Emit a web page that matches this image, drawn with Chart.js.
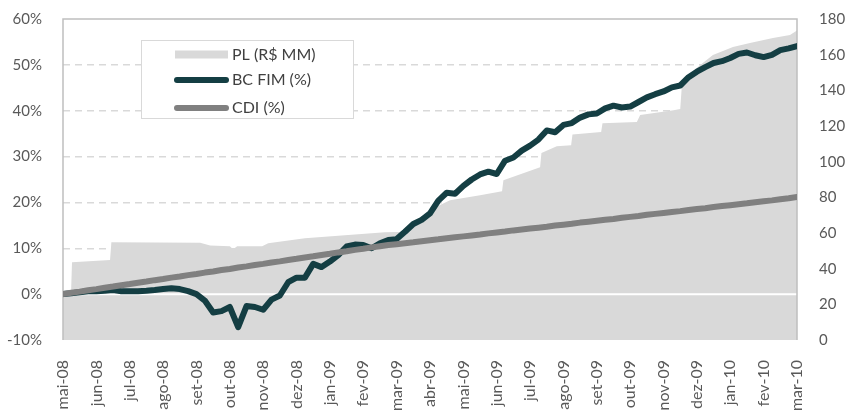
<!DOCTYPE html>
<html>
<head>
<meta charset="utf-8">
<script src="https://cdn.jsdelivr.net/npm/chart.js@4.4.1/dist/chart.umd.min.js"></script>
<style>
    html, body { margin: 0; padding: 0; background: #fff; }
    #wrap { width: 845px; height: 415px; }
</style>
</head>
<body>
<div id="wrap"><canvas id="chart"></canvas></div>
<script>
// Month labels on the x axis (one tick per month)
const monthLabels = ['mai-08', 'jun-08', 'jul-08', 'ago-08', 'set-08', 'out-08', 'nov-08', 'dez-08',
    'jan-09', 'fev-09', 'mar-09', 'abr-09', 'mai-09', 'jun-09', 'jul-09', 'ago-09', 'set-09',
    'out-09', 'nov-09', 'dez-09', 'jan-10', 'fev-10', 'mar-10'];

// BC FIM (%) - read every quarter month starting at mai-08
const bcFim = [0, 0.2, 0.4, 0.65, 0.65, 0.75, 0.9, 0.65, 0.65, 0.65,
    0.75, 0.9, 1.1, 1.3, 1.1, 0.65, 0, -1.4, -4.0, -3.7,
    -2.8, -7.2, -2.6, -2.8, -3.4, -1.2, -0.3, 2.6, 3.6, 3.6,
    6.6, 5.9, 7.1, 8.5, 10.4, 10.8, 10.7, 10.0, 11.1, 11.8,
    12.0, 13.6, 15.3, 16.2, 17.6, 20.4, 22.1, 21.9, 23.6, 25.0,
    26.1, 26.7, 26.2, 29.1, 29.8, 31.3, 32.4, 33.7, 35.7, 35.3,
    36.9, 37.3, 38.5, 39.2, 39.4, 40.5, 41.1, 40.7, 40.9, 41.9,
    42.9, 43.6, 44.2, 45.1, 45.5, 47.3, 48.5, 49.5, 50.4, 50.8,
    51.5, 52.4, 52.7, 52.1, 51.7, 52.2, 53.2, 53.6, 54.1];

// CDI (%) - same quarter month sampling
const cdi = [0.0, 0.3, 0.55, 0.85, 1.1, 1.4, 1.65, 1.95, 2.2, 2.5,
    2.75, 3.05, 3.3, 3.6, 3.85, 4.15, 4.4, 4.7, 4.95, 5.25,
    5.5, 5.8, 6.05, 6.35, 6.6, 6.9, 7.15, 7.45, 7.7, 8.0,
    8.25, 8.55, 8.8, 9.1, 9.35, 9.65, 9.9, 10.2, 10.45, 10.7,
    10.9, 11.1, 11.3, 11.55, 11.75, 11.95, 12.2, 12.4, 12.6, 12.8,
    13.0, 13.25, 13.45, 13.65, 13.9, 14.1, 14.3, 14.5, 14.7, 14.95,
    15.15, 15.35, 15.6, 15.8, 16.0, 16.2, 16.4, 16.65, 16.85, 17.05,
    17.3, 17.5, 17.7, 17.9, 18.1, 18.35, 18.55, 18.75, 19.0, 19.2,
    19.4, 19.6, 19.8, 20.05, 20.25, 20.45, 20.7, 20.9, 21.2];

// PL (R$ MM) - break points (months since mai-08, value)
const plMonths = [0, 0.24, 0.27, 1.41, 1.45, 4.11, 4.41, 5.0, 5.1, 5.22,
    5.97, 6.15, 7.25, 8.45, 9.65, 10.1, 11.1, 11.6, 12.5, 13.16,
    13.2, 14.3, 14.34, 14.8, 15.23, 15.27, 16.13, 16.17, 17.2, 17.3,
    18.3, 18.5, 18.56, 19.1, 19.48, 20.08, 20.59, 21.28, 21.79, 22.0];
const plValues = [25.5, 25.5, 43.6, 44.8, 54.8, 54.6, 53.0, 52.6, 50.9, 52.6,
    52.6, 54.3, 57.1, 58.8, 60.4, 60.6, 73.9, 78.4, 81.2, 83.4,
    89.6, 96.9, 104.8, 108.7, 109.2, 115.3, 116.6, 121.6, 122.3, 126.1,
    128.9, 129.5, 145.5, 154.2, 159.8, 164.3, 166.5, 169.3, 171.0, 173.5];

const leftTicks = [-10, 0, 10, 20, 30, 40, 50, 60];
const rightTicks = [0, 20, 40, 60, 80, 100, 120, 140, 160, 180];

const FONT = 'Lato, "Open Sans", sans-serif';
const TICK_COLOR = '#595959';

// White zero line and plot frame, drawn after the PL area and before the lines
const framePlugin = {
    id: 'frame',
    beforeDatasetDraw(chart, args) {
        if (chart.data.datasets[args.index].label !== 'BC FIM (%)') return;
        const { ctx, chartArea } = chart;
        const y0 = chart.scales.y.getPixelForValue(0);
        ctx.save();
        ctx.strokeStyle = '#ffffff';
        ctx.lineWidth = 2;
        ctx.beginPath();
        ctx.moveTo(chartArea.left, y0);
        ctx.lineTo(chartArea.right, y0);
        ctx.stroke();

        ctx.strokeStyle = '#bfbfbf';
        ctx.lineWidth = 1.5;
        ctx.beginPath();
        ctx.moveTo(chartArea.left, chartArea.bottom);
        ctx.lineTo(chartArea.left, chartArea.top);
        ctx.lineTo(chartArea.right, chartArea.top);
        ctx.lineTo(chartArea.right, chartArea.bottom);
        ctx.stroke();
        ctx.restore();
    }
};

// Legend box inside the plot
const boxLegend = {
    id: 'boxLegend',
    afterDraw(chart) {
        const { ctx } = chart;
        const box = { x: 141.5, y: 40.5, w: 212, h: 78 };
        ctx.save();
        ctx.fillStyle = '#ffffff';
        ctx.strokeStyle = '#d9d9d9';
        ctx.lineWidth = 1;
        ctx.fillRect(box.x, box.y, box.w, box.h);
        ctx.strokeRect(box.x, box.y, box.w, box.h);

        const rows = [54.5, 80, 108];
        ctx.font = '16px ' + FONT;
        ctx.textBaseline = 'middle';
        chart.data.datasets.forEach((ds, i) => {
            const yy = rows[i];
            if (ds.fill) {
                ctx.fillStyle = ds.backgroundColor;
                ctx.fillRect(175, yy - 4, 53, 8);
            } else {
                ctx.strokeStyle = ds.borderColor;
                ctx.lineWidth = ds.borderWidth;
                ctx.lineCap = 'round';
                ctx.beginPath();
                ctx.moveTo(177, yy);
                ctx.lineTo(226, yy);
                ctx.stroke();
            }
            ctx.fillStyle = '#404040';
            ctx.fillText(ds.label, 232, yy);
        });
        ctx.restore();
    }
};

// keep the plot area where the reference has it
const fixVertical = w => s => { s.width = w; s.paddingTop = 0; s.paddingBottom = 0; };

new Chart(document.getElementById('chart'), {
    type: 'line',
    data: {
        datasets: [
            {
                label: 'PL (R$ MM)',
                data: plMonths.map((m, i) => ({ x: m, y: plValues[i] })),
                yAxisID: 'y1',
                fill: 'start',
                backgroundColor: '#d9d9d9',
                borderColor: 'rgba(0,0,0,0)',
                borderWidth: 0,
                pointRadius: 0,
                order: 3
            },
            {
                label: 'BC FIM (%)',
                data: bcFim.map((v, i) => ({ x: i / 4, y: v })),
                yAxisID: 'y',
                fill: false,
                borderColor: '#143e43',
                borderWidth: 6,
                borderCapStyle: 'round',
                borderJoinStyle: 'round',
                pointRadius: 0,
                order: 2
            },
            {
                label: 'CDI (%)',
                data: cdi.map((v, i) => ({ x: i / 4, y: v })),
                yAxisID: 'y',
                fill: false,
                borderColor: '#808080',
                borderWidth: 6,
                borderCapStyle: 'round',
                borderJoinStyle: 'round',
                pointRadius: 0,
                order: 1
            }
        ]
    },
    options: {
        responsive: true,
        maintainAspectRatio: false,
        animation: false,
        layout: { padding: { top: 19, left: 0, right: 0, bottom: 0 } },
        plugins: {
            legend: { display: false },
            tooltip: { enabled: false }
        },
        scales: {
            x: {
                type: 'linear',
                min: 0,
                max: monthLabels.length - 1,
                grid: { display: false },
                border: { display: false },
                afterBuildTicks: s => { s.ticks = monthLabels.map((_, i) => ({ value: i })); },
                afterFit: s => { s.height = 75; s.paddingLeft = 0; s.paddingRight = 0; },
                ticks: {
                    autoSkip: false,
                    minRotation: 90,
                    maxRotation: 90,
                    padding: 12,
                    color: TICK_COLOR,
                    font: { family: FONT, size: 16 },
                    callback: v => monthLabels[v]
                }
            },
            y: {
                position: 'left',
                min: -10,
                max: 60,
                afterBuildTicks: s => { s.ticks = leftTicks.map(v => ({ value: v })); },
                afterFit: fixVertical(63),
                grid: {
                    drawTicks: false,
                    lineWidth: 1.5,
                    color: c => (c.tick.value > 0 && c.tick.value < 60) ? '#d9d9d9' : 'rgba(0,0,0,0)'
                },
                border: { display: false, dash: [7, 5] },
                ticks: {
                    padding: 21,
                    color: TICK_COLOR,
                    font: { family: FONT, size: 15 },
                    callback: v => v + '%'
                }
            },
            y1: {
                position: 'right',
                min: 0,
                max: 180,
                afterBuildTicks: s => { s.ticks = rightTicks.map(v => ({ value: v })); },
                afterFit: fixVertical(48),
                grid: { display: false, drawTicks: false },
                border: { display: false },
                ticks: {
                    padding: 22,
                    color: TICK_COLOR,
                    font: { family: FONT, size: 15 }
                }
            }
        }
    },
    plugins: [framePlugin, boxLegend]
});
</script>
</body>
</html>
